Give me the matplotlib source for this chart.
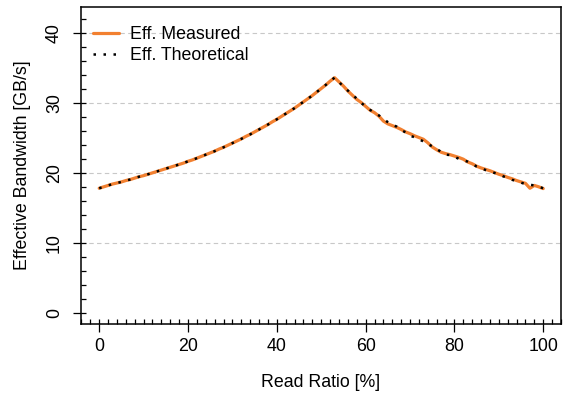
import numpy as np
import matplotlib
matplotlib.use('Agg')
import matplotlib.pyplot as plt
from matplotlib.ticker import MultipleLocator

# -Daten---------------------------------------------------------------------------------------------------------------#

read_ratio = list(range(0, 101))

eff_measured = [
    17.8, 18.0, 18.2, 18.4, 18.55, 18.7, 18.9, 19.05, 19.25, 19.45,
    19.6, 19.8, 20.0, 20.2, 20.4, 20.6, 20.8, 21.0, 21.2, 21.4,
    21.65, 21.85, 22.1, 22.35, 22.6, 22.85, 23.1, 23.4, 23.65, 23.95,
    24.25, 24.55, 24.85, 25.2, 25.5, 25.85, 26.2, 26.55, 26.9, 27.3,
    27.65, 28.05, 28.45, 28.85, 29.25, 29.7, 30.15, 30.6, 31.05, 31.55,
    32.05, 32.55, 33.1, 33.6, 33.0, 32.4, 31.7, 31.1, 30.5, 30.05,
    29.5, 28.95, 28.6, 28.1, 27.4, 27.0, 26.75, 26.5, 26.2, 25.85,
    25.6, 25.3, 25.05, 24.8, 24.3, 23.7, 23.3, 22.95, 22.75, 22.6,
    22.4, 22.2, 21.95, 21.55, 21.3, 20.95, 20.7, 20.5, 20.3, 20.05,
    19.8, 19.6, 19.35, 19.15, 18.9, 18.7, 18.5, 17.8, 18.2, 18.0,
    17.75]

eff_theoretical = [
    17.8, 18.0, 18.2, 18.4, 18.55, 18.7, 18.9, 19.05, 19.25, 19.45,
    19.6, 19.8, 20.0, 20.2, 20.4, 20.6, 20.8, 21.0, 21.2, 21.4,
    21.65, 21.85, 22.1, 22.35, 22.6, 22.85, 23.1, 23.4, 23.65, 23.95,
    24.25, 24.55, 24.85, 25.2, 25.5, 25.85, 26.2, 26.55, 26.9, 27.3,
    27.65, 28.05, 28.45, 28.85, 29.25, 29.7, 30.15, 30.6, 31.05, 31.55,
    32.05, 32.55, 33.1, 33.6, 33.0, 32.3, 31.75, 31.2, 30.6, 30.0,
    29.5, 29.0, 28.6, 28.2, 27.7, 27.25, 26.9, 26.6, 26.1, 25.8,
    25.3, 25.1, 24.8, 24.5, 24.1, 23.8, 23.4, 23.0, 22.6, 22.55,
    22.3, 22.0, 21.8, 21.6, 21.3, 20.9, 20.7, 20.4, 20.2, 20.0,
    19.8, 19.5, 19.3, 19.0, 18.85, 18.6, 18.4, 18.3, 18.2, 18.0,
    17.8]

y_grid = [10, 20, 30, 40]

# -Diagramm------------------------------------------------------------------------------------------------------------#

plt.rcParams['font.family'] = ['Liberation Sans', 'DejaVu Sans']
plt.rcParams['font.size'] = 12.8

fig = plt.figure(figsize=(5.63, 3.94), dpi=100)
ax = fig.add_axes([81 / 563, 70 / 394, 480 / 563, 317 / 394])

for g in y_grid:
    ax.axhline(y=g, color='#c8c8c8', ls=(0, (4, 3)), lw=0.8, zorder=1)

ax.plot(read_ratio, eff_measured, color='#f28030', lw=2.3, label='Eff. Measured', zorder=2,
        solid_joinstyle='round', solid_capstyle='round')
ax.plot(read_ratio, eff_theoretical, color='black', lw=1.8, ls=(0, (1, 3)), label='Eff. Theoretical', zorder=3)

ax.set_xlim(-4.1, 104)
ax.set_ylim(-1.6, 43.7)

ax.xaxis.set_major_locator(MultipleLocator(20))
ax.xaxis.set_minor_locator(MultipleLocator(2))
ax.yaxis.set_major_locator(MultipleLocator(10))
ax.yaxis.set_minor_locator(MultipleLocator(2))
ax.xaxis.remove_overlapping_locs = False
ax.yaxis.remove_overlapping_locs = False

ax.tick_params(which='major', direction='out', length=6, width=0.9)
ax.tick_params(axis='x', which='major', pad=4)
ax.tick_params(axis='y', which='major', pad=7)
ax.tick_params(which='minor', direction='in', length=3.5, width=0.9)
for lab in ax.get_yticklabels():
    lab.set_rotation(90)
    lab.set_va('center')

for sp in ax.spines.values():
    sp.set_linewidth(1.1)

ax.set_xlabel('Read Ratio [%]', va='center')
ax.set_ylabel('Effective Bandwidth [GB/s]')
ax.xaxis.set_label_coords(0.5, -0.183)
ax.yaxis.set_label_coords(-0.104, 0.5)

ax.legend(loc='upper left', bbox_to_anchor=(0.006, 0.968), frameon=False, handlelength=1.5,
          handletextpad=0.6, labelspacing=0.25, borderpad=0, borderaxespad=0.5)

fig.savefig('out.png', dpi=100)
